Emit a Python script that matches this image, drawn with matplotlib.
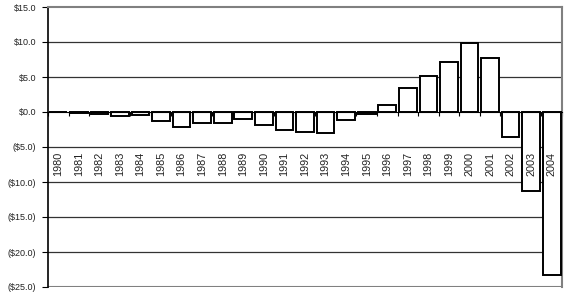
import matplotlib
matplotlib.use("Agg")
import matplotlib.pyplot as plt
import numpy as np

years = [str(y) for y in range(1980, 2005)]
values = [-0.05, -0.2, -0.3, -0.5, -0.45, -1.3, -2.1, -1.5, -1.5, -1.0,
          -1.85, -2.5, -2.8, -2.95, -1.15, -0.35, 0.95, 3.5, 5.1, 7.1,
          9.8, 7.75, -3.5, -11.3, -23.3]
yticks = [15, 10, 5, 0, -5, -10, -15, -20, -25]

plt.rcParams['font.family'] = ['Liberation Sans', 'DejaVu Sans']

def fmt(v):
    return f"${v:.1f}" if v >= 0 else f"(${-v:.1f})"

fig = plt.figure(figsize=(5.76, 2.99), dpi=100)
ax = fig.add_axes([48/576, 1-287/299, (562-48)/576, (287-7)/299])

x = np.arange(len(years))
ax.bar(x, values, width=0.86, color='white', edgecolor='black', linewidth=1.4, zorder=3)

ax.set_xlim(-0.5, len(years) - 0.5)
ax.set_ylim(-25, 15)
ax.set_yticks(yticks)
ax.set_yticklabels([fmt(v) for v in yticks], fontsize=6.5, color='#222222')
for v in yticks:
    if v not in (0, 15, -25):
        ax.axhline(v, color='#333333', linewidth=0.9, zorder=1)
ax.axhline(-25, color='#808080', linewidth=1.5, zorder=1)

ax.spines['bottom'].set_position(('data', 0))
ax.spines['bottom'].set_color('black')
ax.spines['bottom'].set_zorder(4)
ax.spines['left'].set_color('black')
ax.spines['left'].set_linewidth(1.2)
ax.spines['top'].set_color('#808080')
ax.spines['top'].set_linewidth(1.5)
ax.spines['right'].set_color('#808080')
ax.spines['right'].set_linewidth(1.5)

ax.set_xticks(np.arange(-0.5, len(years), 1.0))
ax.set_xticklabels([])
ax.tick_params(axis='x', direction='out', length=3, width=0.8)
ax.tick_params(axis='y', direction='out', length=4, width=0.8, pad=4.5)

for xi, lab in zip(x, years):
    ax.text(xi, -5.65, lab, rotation=90, ha='center', va='top', fontsize=7.8, color='#222222', zorder=5)

fig.savefig("out.png", dpi=100)
